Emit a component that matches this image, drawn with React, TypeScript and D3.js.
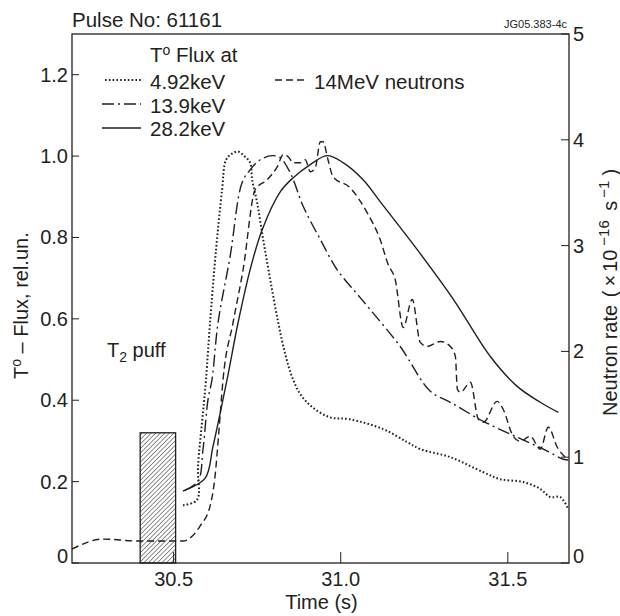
import React from "react";
import * as d3 from "d3";

// ---- data ----
const dottedT = [30.528, 30.57, 30.573, 30.588, 30.597, 30.609, 30.627, 30.645, 30.657, 30.675, 30.693, 30.714, 30.729, 30.735, 30.75, 30.768, 30.789, 30.813, 30.834, 30.855, 30.879, 30.915, 30.968, 31.028, 31.127, 31.199, 31.238, 31.328, 31.427, 31.477, 31.546, 31.597, 31.627, 31.657, 31.681];
const dottedV = [0.142, 0.155, 0.238, 0.37, 0.451, 0.591, 0.77, 0.917, 0.991, 1.006, 1.011, 0.998, 0.984, 0.942, 0.885, 0.795, 0.697, 0.591, 0.513, 0.456, 0.415, 0.383, 0.358, 0.353, 0.329, 0.297, 0.28, 0.26, 0.223, 0.206, 0.199, 0.182, 0.162, 0.162, 0.132];

const dashDotT = [30.534, 30.573, 30.588, 30.603, 30.615, 30.633, 30.669, 30.705, 30.729, 30.759, 30.795, 30.819, 30.849, 30.888, 30.939, 30.989, 31.043, 31.088, 31.178, 31.268, 31.328, 31.427, 31.528, 31.606, 31.666, 31.681];
const dashDotV = [0.179, 0.201, 0.28, 0.402, 0.451, 0.591, 0.753, 0.935, 0.966, 0.991, 1.001, 0.996, 0.959, 0.876, 0.795, 0.721, 0.667, 0.623, 0.532, 0.422, 0.395, 0.348, 0.309, 0.28, 0.255, 0.253];

const solidT = [30.528, 30.594, 30.618, 30.66, 30.693, 30.729, 30.765, 30.819, 30.858, 30.909, 30.959, 31.007, 31.067, 31.118, 31.229, 31.337, 31.447, 31.528, 31.597, 31.651];
const solidV = [0.177, 0.208, 0.287, 0.451, 0.591, 0.721, 0.819, 0.912, 0.947, 0.979, 1.001, 0.984, 0.942, 0.888, 0.77, 0.648, 0.508, 0.434, 0.395, 0.37];

const neutronT = [30.196, 30.289, 30.391, 30.528, 30.579, 30.609, 30.624, 30.636, 30.648, 30.678, 30.708, 30.744, 30.78, 30.81, 30.828, 30.843, 30.858, 30.879, 30.894, 30.909, 30.924, 30.939, 30.947, 30.962, 30.977, 31.028, 31.079, 31.118, 31.142, 31.163, 31.187, 31.214, 31.238, 31.259, 31.298, 31.328, 31.343, 31.349, 31.358, 31.388, 31.412, 31.427, 31.468, 31.486, 31.516, 31.537, 31.567, 31.597, 31.621, 31.648, 31.678];
const neutronV = [0.132, 0.226, 0.208, 0.208, 0.349, 0.538, 0.821, 1.264, 1.736, 2.274, 2.774, 3.528, 3.623, 3.745, 3.858, 3.84, 3.783, 3.783, 3.811, 3.698, 3.736, 3.981, 3.981, 3.811, 3.651, 3.547, 3.311, 3.057, 2.821, 2.679, 2.226, 2.491, 2.085, 2.047, 2.094, 2.047, 1.953, 1.642, 1.613, 1.708, 1.358, 1.33, 1.528, 1.453, 1.198, 1.151, 1.198, 1.075, 1.283, 1.094, 0.981];

const puffStart = 30.4;
const puffEnd = 30.506;
const puffLevel = 0.32;

const xTicks = [30.5, 31.0, 31.5];
const xTickLabels = ["30.5", "31.0", "31.5"];
const yLeftTicks = [0, 0.2, 0.4, 0.6, 0.8, 1.0, 1.2];
const yLeftLabels = ["0", "0.2", "0.4", "0.6", "0.8", "1.0", "1.2"];
const yRightTicks = [0, 1, 2, 3, 4, 5];
const yRightLabels = ["0", "1", "2", "3", "4", "5"];

const legendItems = [
  { label: "4.92keV", dash: "1.6 2.2", w: 2 },
  { label: "13.9keV", dash: "12 4 2 4", w: 1.4 },
  { label: "28.2keV", dash: "none", w: 1.4 },
];

const W = 620, H = 616;
const L = 72, R = 569, T = 34, B = 563;
const INK = "#231f20";
const FONT = "'Liberation Sans', Arial, Helvetica, sans-serif";

export default function App() {
  const x = d3.scaleLinear().domain([30.196, 31.683]).range([L, R]);
  const yL = d3.scaleLinear().domain([0, 1.3]).range([B, T]);
  const yR = d3.scaleLinear().domain([0, 5]).range([B, T]);

  const smooth = d3.line<[number, number]>().curve(d3.curveCatmullRom.alpha(0.5));
  const mono = d3.line<[number, number]>().curve(d3.curveMonotoneX);

  const pts = (ts: number[], vs: number[], ys: d3.ScaleLinear<number, number>) =>
    ts.map((t, i) => [x(t), ys(vs[i])] as [number, number]);

  const dotted = smooth(pts(dottedT, dottedV, yL)) || "";
  const dashdot = smooth(pts(dashDotT, dashDotV, yL)) || "";
  const solid = smooth(pts(solidT, solidV, yL)) || "";
  const neutrons = mono(pts(neutronT, neutronV, yR)) || "";

  const fs = 20;
  const fsBig = 20.5;
  const sup = 14;

  return (
    <svg width={W} height={H} style={{ position: "absolute", left: 0, top: 0, background: "#fff" }} fontFamily={FONT}>
      <defs>
        <pattern id="hatch" patternUnits="userSpaceOnUse" width="3.2" height="3.2" patternTransform="rotate(45)">
          <line x1="0" y1="0" x2="0" y2="3.2" stroke={INK} strokeWidth="1" />
        </pattern>
      </defs>
      <rect width={W} height={H} fill="#fff" />

      {/* title */}
      <text x={72} y={27} fontSize={fsBig} fill={INK}>Pulse No: 61161</text>
      <text x={567} y={28} fontSize={11} fill={INK} textAnchor="end">JG05.383-4c</text>

      {/* frame */}
      <rect x={L} y={T} width={R - L} height={B - T} fill="none" stroke={INK} strokeWidth={1.3} />

      {/* left ticks */}
      {yLeftTicks.map((v, i) => (
        <g key={"yl" + i}>
          <line x1={L} x2={L + 7} y1={yL(v)} y2={yL(v)} stroke={INK} strokeWidth={1} />
          <text x={L - 4} y={yL(v) + (v === 0 ? 0 : 7)} fontSize={fs} textAnchor="end" fill={INK}>{yLeftLabels[i]}</text>
        </g>
      ))}
      {/* right ticks */}
      {yRightTicks.map((v, i) => (
        <g key={"yr" + i}>
          <line x1={R - 8} x2={R} y1={yR(v)} y2={yR(v)} stroke={INK} strokeWidth={1} />
          <text x={R + 4} y={yR(v) + (v === 0 ? 0 : 7)} fontSize={fs} fill={INK}>{yRightLabels[i]}</text>
        </g>
      ))}
      {/* bottom ticks */}
      {xTicks.map((v, i) => (
        <g key={"xt" + i}>
          <line x1={x(v)} x2={x(v)} y1={B} y2={B - 11} stroke={INK} strokeWidth={1} />
          <text x={x(v)} y={B + 23} fontSize={fs} textAnchor="middle" fill={INK}>{xTickLabels[i]}</text>
        </g>
      ))}

      {/* axis titles */}
      <text x={(L + R) / 2 + 1} y={B + 46} fontSize={fs} textAnchor="middle" fill={INK}>Time (s)</text>
      <text transform={`translate(28,379) rotate(-90)`} fontSize={fs} fill={INK}>
        T<tspan dy={-7} fontSize={sup}>o</tspan><tspan dy={7}> – Flux, rel.un.</tspan>
      </text>
      <text transform={`translate(617,416) rotate(-90)`} fontSize={fs} fill={INK}>
        Neutron rate <tspan dx={2}>(</tspan><tspan dx={4}>×</tspan><tspan dx={3}>10</tspan><tspan dx={4} dy={-8} fontSize={15}>−16</tspan><tspan dx={4} dy={8}> s</tspan><tspan dx={3} dy={-8} fontSize={15}>−1</tspan><tspan dx={5} dy={8}>)</tspan>
      </text>

      {/* T2 puff */}
      <rect x={x(puffStart)} y={yL(puffLevel)} width={x(puffEnd) - x(puffStart)} height={B - yL(puffLevel)} fill="url(#hatch)" stroke={INK} strokeWidth={1.3} />
      <text x={107} y={357} fontSize={fs} fill={INK}>T<tspan dy={5} fontSize={sup}>2</tspan><tspan dy={-5}> puff</tspan></text>

      {/* curves */}
      <path d={neutrons} fill="none" stroke={INK} strokeWidth={1.4} strokeDasharray="7 4" />
      <path d={dotted} fill="none" stroke={INK} strokeWidth={2} strokeDasharray="1.6 2.2" />
      <path d={dashdot} fill="none" stroke={INK} strokeWidth={1.4} strokeDasharray="12 4 2 4" />
      <path d={solid} fill="none" stroke={INK} strokeWidth={1.4} />

      {/* legend */}
      <text x={150} y={62} fontSize={fsBig} fill={INK}>T<tspan dy={-7} fontSize={sup}>o</tspan><tspan dy={7}> Flux at</tspan></text>
      {legendItems.map((it, i) => {
        const yy = [80, 104, 128][i];
        const by = [89, 113, 136][i];
        return (
          <g key={"lg" + i}>
            <line x1={i === 0 ? 105 : 102} x2={141} y1={yy} y2={yy} stroke={INK} strokeWidth={it.w} strokeDasharray={it.dash} />
            <text x={150} y={by} fontSize={fsBig} fill={INK}>{it.label}</text>
          </g>
        );
      })}
      <line x1={275} x2={308} y1={80} y2={80} stroke={INK} strokeWidth={1.4} strokeDasharray="7 4" />
      <text x={314} y={89} fontSize={fsBig} fill={INK}>14MeV neutrons</text>
    </svg>
  );
}
